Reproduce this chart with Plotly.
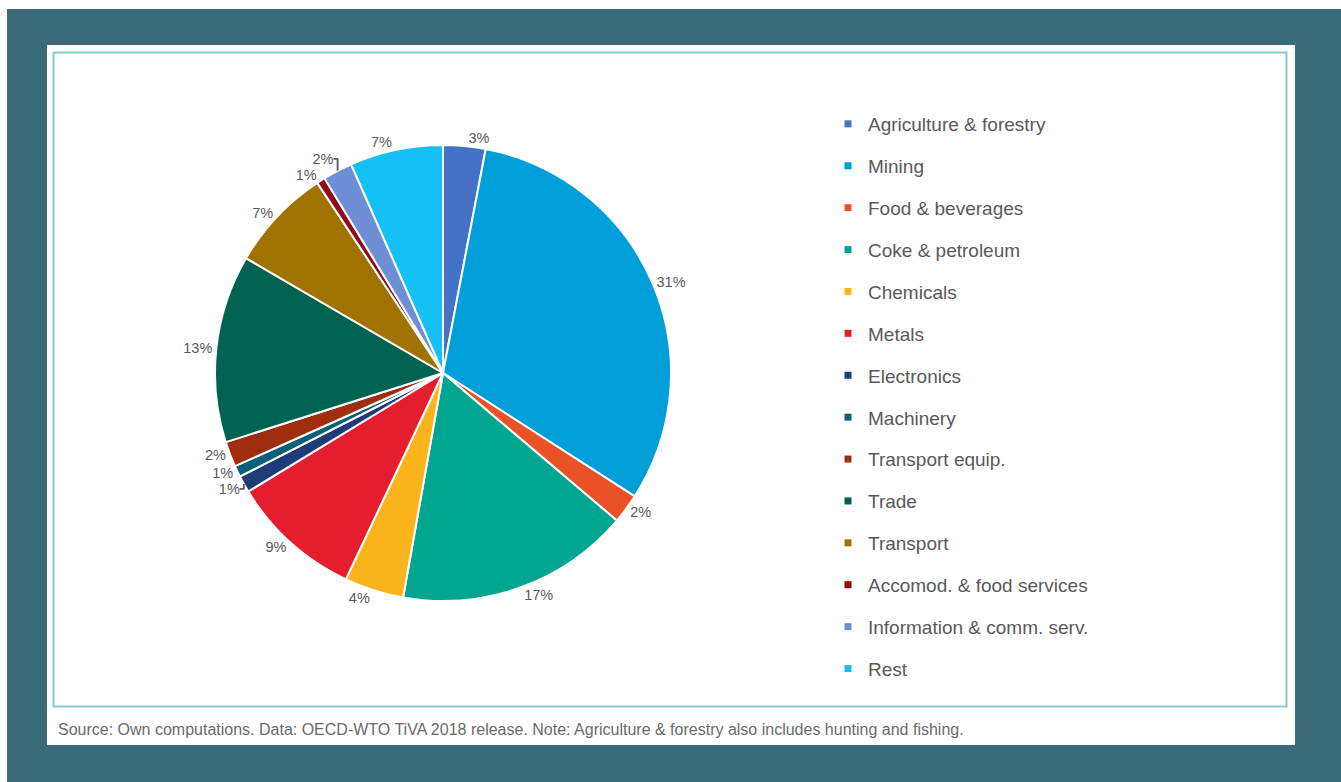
import plotly.graph_objects as go

W, H = 1341, 782

categories = [
    "Agriculture & forestry", "Mining", "Food & beverages", "Coke & petroleum",
    "Chemicals", "Metals", "Electronics", "Machinery", "Transport equip.",
    "Trade", "Transport", "Accomod. & food services",
    "Information & comm. serv.", "Rest",
]
shares = [3.0, 31.1, 2.1, 16.6, 4.2, 9.3, 1.2, 0.8, 1.8, 13.3, 7.3, 0.6, 2.1, 6.6]
colors = [
    "#4472C4", "#009FDA", "#EA5126", "#00A690", "#FBB51A", "#E41E2E",
    "#1F3C78", "#0B5F78", "#A02D0F", "#006352", "#A07200", "#8E0B1C",
    "#6E8FD6", "#14C0F6",
]
source_note = ("Source: Own computations. Data: OECD-WTO TiVA 2018 release. "
               "Note: Agriculture & forestry also includes hunting and fishing.")

TEAL = "#3b6a78"
GREY = "#595959"

def px_x(v):
    return v / W

def px_y(v):
    return 1 - v / H

fig = go.Figure()

fig.add_trace(go.Pie(
    labels=categories,
    values=shares,
    sort=False,
    direction="clockwise",
    rotation=0,
    marker=dict(colors=colors, line=dict(color="white", width=2)),
    texttemplate="%{percent:.0%}",
    textposition="outside",
    textfont=dict(family="Liberation Sans, Arial, sans-serif", size=14.5, color=GREY),
    showlegend=False,
    domain=dict(x=[px_x(215), px_x(671)], y=[px_y(601), px_y(145)]),
    automargin=False,
))

# legend entries (one per category, so spacing can match the reference)
for i, (name, col) in enumerate(zip(categories, colors)):
    fig.add_trace(go.Scatter(
        x=[None], y=[None], mode="markers", name=name,
        marker=dict(symbol="square", size=7, color=col),
        legendgroup=f"g{i}", showlegend=True, hoverinfo="skip",
    ))

shapes = [
    # white outer strips at the image edges
    dict(type="rect", xref="paper", yref="paper", x0=0, x1=1, y0=px_y(9), y1=1,
         fillcolor="white", line=dict(width=0), layer="below"),
    dict(type="rect", xref="paper", yref="paper", x0=0, x1=px_x(7), y0=0, y1=1,
         fillcolor="white", line=dict(width=0), layer="below"),
    # white panel
    dict(type="rect", xref="paper", yref="paper", x0=px_x(47), x1=px_x(1295),
         y0=px_y(745), y1=px_y(45), fillcolor="white", line=dict(width=0), layer="below"),
    # inner chart border
    dict(type="rect", xref="paper", yref="paper", x0=px_x(53.5), x1=px_x(1286.5),
         y0=px_y(706.5), y1=px_y(52.5), fillcolor="rgba(0,0,0,0)",
         line=dict(color="#86c9cb", width=2), layer="below"),
]

fig.update_layout(
    width=W, height=H,
    margin=dict(l=0, r=0, t=0, b=0),
    paper_bgcolor=TEAL,
    plot_bgcolor="rgba(0,0,0,0)",
    xaxis=dict(visible=False),
    yaxis=dict(visible=False),
    shapes=shapes,
    font=dict(family="Liberation Sans, Arial, sans-serif", color=GREY),
    legend=dict(
        x=px_x(828), xanchor="left",
        y=px_y(105), yanchor="top",
        bgcolor="rgba(0,0,0,0)",
        font=dict(size=19, color=GREY),
        tracegroupgap=14.2,
        itemclick=False, itemdoubleclick=False,
    ),
    annotations=[dict(
        text=source_note, xref="paper", yref="paper",
        x=px_x(56), xanchor="left", y=px_y(729), yanchor="middle",
        showarrow=False, font=dict(size=16, color="#6a6a6a"),
    )],
)

fig.write_html("out.html")
